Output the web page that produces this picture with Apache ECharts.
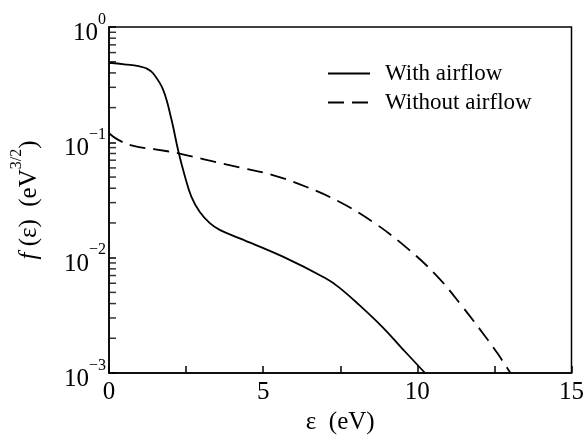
<!DOCTYPE html>
<html>
<head>
<meta charset="utf-8">
<script src="https://cdn.jsdelivr.net/npm/echarts@6/dist/echarts.min.js"></script>
<style>
  html, body { margin: 0; padding: 0; background: #fff; }
  #chart { width: 587px; height: 440px; }
</style>
</head>
<body>
<div id="chart"></div>
<script>
// energy (eV) and f(eps)
const energyWith = [0, 0.5, 1.0, 1.22, 1.43, 1.76, 2.03, 2.24, 2.45, 2.67, 2.94, 3.27, 3.59, 4.24, 5.64, 7.04, 7.47, 8.11, 8.87, 9.51, 10.25];
const fWith = [0.49, 0.475, 0.455, 0.437, 0.397, 0.284, 0.156, 0.0858, 0.052, 0.0338, 0.025, 0.0199, 0.0174, 0.0147, 0.0102, 0.0066, 0.0055, 0.0039, 0.0025, 0.00163, 0.001];

const energyWithout = [0, 0.3, 0.79, 1.5, 2.29, 3.2, 4.24, 5.31, 6.39, 7.47, 8.55, 9.62, 10.6, 11.45, 12.21, 12.6, 13.02];
const fWithout = [0.12, 0.105, 0.093, 0.087, 0.08, 0.07, 0.0607, 0.052, 0.0412, 0.0305, 0.0205, 0.0124, 0.0071, 0.0038, 0.00206, 0.00148, 0.001];

const seriesNames = ["With airflow", "Without airflow"];
const xTicks = [0, 5, 10, 15];
// log axis minor tick positions (2..9 per decade)
const yMinorTicks = [0.002, 0.003, 0.004, 0.005, 0.006, 0.007, 0.008, 0.009,
  0.02, 0.03, 0.04, 0.05, 0.06, 0.07, 0.08, 0.09,
  0.2, 0.3, 0.4, 0.5, 0.6, 0.7, 0.8, 0.9];

const serif = "Liberation Serif";
const chart = echarts.init(document.getElementById("chart"));

const zip = (xs, ys) => xs.map((x, i) => [x, ys[i]]);

chart.setOption({
  animation: false,
  textStyle: { fontFamily: serif, color: "#000" },
  grid: {
    left: 109, right: 14, top: 27, bottom: 67,
    show: true, borderColor: "#000", borderWidth: 1.5
  },
  legend: {
    data: seriesNames,
    orient: "vertical",
    left: 327, top: 62,
    padding: 0,
    itemWidth: 42, itemHeight: 14, itemGap: 6,
    itemStyle: { opacity: 0 },
    textStyle: { fontFamily: serif, fontSize: 23, color: "#000", padding: [0, 0, 0, 10] }
  },
  xAxis: {
    type: "value",
    min: 0, max: 15, interval: 2.5,
    name: "ε  (eV)",
    nameLocation: "middle",
    nameGap: 35,
    nameTextStyle: { fontFamily: serif, fontSize: 25, color: "#000" },
    axisLine: { lineStyle: { color: "#000", width: 1.5 } },
    axisTick: { inside: true, length: 7, lineStyle: { color: "#000", width: 1.5 } },
    axisLabel: {
      fontFamily: serif, fontSize: 25, color: "#000", margin: 7,
      formatter: v => (xTicks.includes(v) ? String(v) : "")
    },
    splitLine: { show: false }
  },
  yAxis: {
    type: "log", logBase: 10,
    min: 0.001, max: 1,
    name: "{i|f}{n| (ε)  (eV}{s|3/2}{n|)}",
    nameLocation: "middle",
    nameRotate: 90,
    nameGap: 60,
    nameTextStyle: {
      rich: {
        i: { fontFamily: serif, fontSize: 25, fontStyle: "italic", color: "#000", lineHeight: 40 },
        n: { fontFamily: serif, fontSize: 25, color: "#000", lineHeight: 40 },
        s: { fontFamily: serif, fontSize: 16, color: "#000", verticalAlign: "top", lineHeight: 16 }
      }
    },
    axisLine: { lineStyle: { color: "#000", width: 1.5 } },
    axisTick: { inside: true, length: 7, lineStyle: { color: "#000", width: 1.5 } },
    axisLabel: {
      margin: 3,
      padding: [13, 0, 0, 0],
      formatter: v => {
        const e = Math.round(Math.log10(v));
        return "{b|10}{s|" + (e < 0 ? "\u2212" + (-e) : e) + "}";
      },
      rich: {
        b: { fontFamily: serif, fontSize: 25, color: "#000", lineHeight: 44 },
        s: { fontFamily: serif, fontSize: 16, color: "#000", verticalAlign: "top", lineHeight: 16 }
      }
    },
    splitLine: { show: false }
  },
  series: [
    {
      name: seriesNames[0],
      type: "line",
      data: zip(energyWith, fWith),
      symbol: "none",
      smooth: 0.4,
      itemStyle: { color: "#000" },
      lineStyle: { color: "#000", width: 1.8 }
    },
    {
      name: seriesNames[1],
      type: "line",
      data: zip(energyWithout, fWithout),
      symbol: "none",
      smooth: 0.4,
      itemStyle: { color: "#000" },
      lineStyle: { color: "#000", width: 1.8, type: [16, 8] }
    },
    {
      // minor ticks on the log axis
      type: "scatter",
      silent: true,
      data: yMinorTicks.map(v => [0, v]),
      symbol: "rect",
      symbolSize: [7, 1.5],
      symbolOffset: [3.5, 0],
      itemStyle: { color: "#000" },
      clip: false
    }
  ]
});
</script>
</body>
</html>
